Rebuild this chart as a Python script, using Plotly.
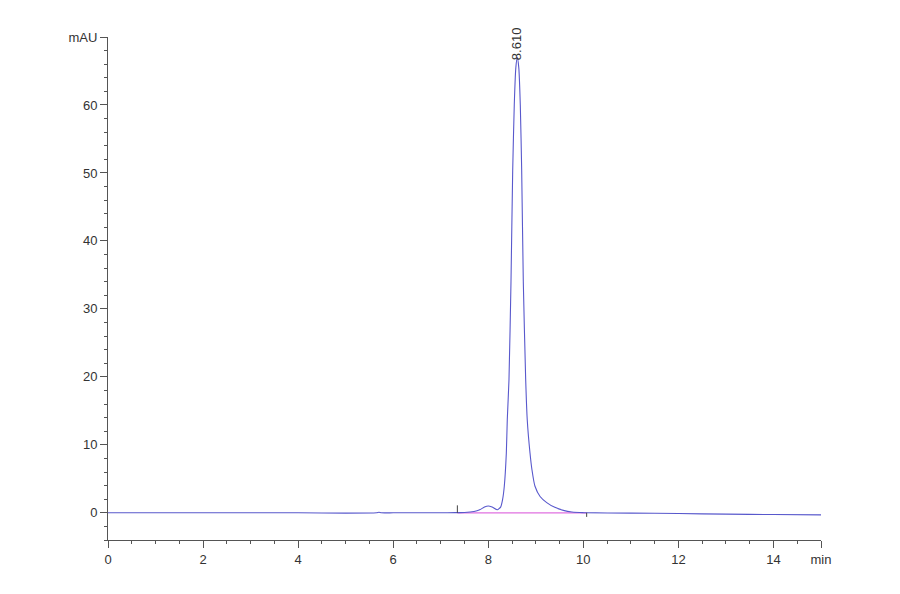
import plotly.graph_objects as go

# chromatogram signal (time in min, absorbance in mAU)
time_min = [0.0, 1.0, 2.0, 3.0, 4.0, 5.0, 5.65, 5.7, 5.75, 6.0, 7.0, 7.3, 7.5,
            7.7, 7.82, 7.92, 8.0, 8.08, 8.19, 8.26, 8.30, 8.337, 8.38, 8.40,
            8.436, 8.478, 8.514, 8.547, 8.58, 8.61, 8.642, 8.674, 8.703,
            8.737, 8.787, 8.82, 8.878, 8.92, 8.983, 9.09, 9.23, 9.40, 9.58,
            9.76, 10.0, 11.0, 12.0, 13.0, 14.0, 15.0]
signal_mau = [0.0, 0.0, 0.0, 0.0, 0.0, -0.05, 0.0, 0.08, 0.0, 0.0, 0.0, 0.02,
              0.05, 0.2, 0.45, 0.85, 1.0, 0.85, 0.44, 0.84, 1.9, 3.9, 8.8,
              13.7, 19.6, 34.0, 50.4, 60.0, 65.5, 67.0, 65.5, 60.0, 50.4,
              34.0, 19.6, 13.7, 8.8, 6.3, 3.9, 2.4, 1.5, 0.8, 0.36, 0.12,
              0.02, -0.05, -0.1, -0.2, -0.25, -0.3]

# integration baseline and start / end marks
baseline_t = [7.35, 10.07]
baseline_v = [0.0, 0.0]
mark_t = [7.35, 10.07]
mark_top = [1.1, 0.0]
mark_bottom = [0.0, -0.6]

peak_rt = 8.61
peak_height = 67.0
peak_label = "8.610"

x_ticks = [0, 2, 4, 6, 8, 10, 12, 14, 15]
x_labels = ["0", "2", "4", "6", "8", "10", "12", "14", "min"]
y_ticks = [0, 10, 20, 30, 40, 50, 60, 70]
y_labels = ["0", "10", "20", "30", "40", "50", "60", "mAU"]

FONT = "Liberation Sans Narrow, Liberation Sans, Arial, sans-serif"
AXIS = "#555555"

mx, my = [], []
for t, a, b in zip(mark_t, mark_top, mark_bottom):
    mx += [t, t, None]
    my += [b, a, None]

fig = go.Figure()
fig.add_trace(go.Scatter(x=baseline_t, y=baseline_v, mode="lines",
                         line=dict(color="#e070e0", width=1.3),
                         hoverinfo="skip"))
fig.add_trace(go.Scatter(x=time_min, y=signal_mau, mode="lines",
                         line=dict(color="#5858cc", width=1.1,
                                   shape="spline", smoothing=0.5)))
fig.add_trace(go.Scatter(x=mx, y=my, mode="lines",
                         line=dict(color="#444444", width=1),
                         hoverinfo="skip"))

fig.add_annotation(x=peak_rt, y=peak_height, text=peak_label,
                   textangle=-90, showarrow=False, yanchor="bottom",
                   xanchor="center", yshift=-5,
                   font=dict(family=FONT, size=13, color="#333333"))

# page body adds 8px around the figure, so size and margins allow for it
fig.update_layout(
    width=892, height=586,
    paper_bgcolor="white", plot_bgcolor="white",
    showlegend=False,
    margin=dict(l=100, r=79, t=29, b=54),
    font=dict(family=FONT, size=13, color="#333333"),
)
fig.update_xaxes(
    range=[0, 15], showgrid=False, zeroline=False,
    showline=True, linecolor=AXIS, linewidth=1,
    tickmode="array", tickvals=x_ticks, ticktext=x_labels,
    ticks="outside", ticklen=7, tickcolor=AXIS,
    minor=dict(dtick=0.5, ticks="outside", ticklen=3, tickcolor=AXIS),
)
fig.update_yaxes(
    range=[-4, 70], showgrid=False, zeroline=False,
    showline=True, linecolor=AXIS, linewidth=1,
    tickmode="array", tickvals=y_ticks, ticktext=y_labels,
    ticks="outside", ticklen=7, tickcolor=AXIS,
    minor=dict(dtick=2, ticks="outside", ticklen=3, tickcolor=AXIS),
)

fig.write_html("out.html")
